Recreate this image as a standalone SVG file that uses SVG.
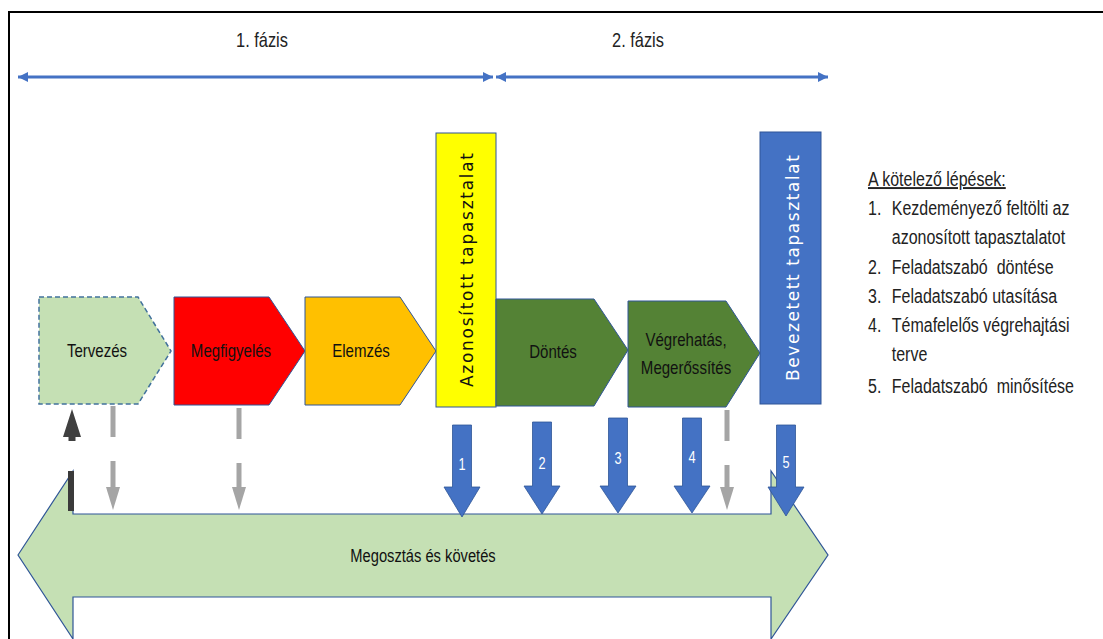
<svg xmlns="http://www.w3.org/2000/svg" width="1103" height="639" viewBox="0 0 1103 639">
  <defs>
    <style>
      .frame { fill: none; stroke: #000; stroke-width: 2; }
      .phase { stroke: #4472C4; stroke-width: 3; fill: none; }
      .phase-label { font-family: "Liberation Sans", Arial, sans-serif; font-size: 20px; fill: #222; text-anchor: middle; }
      .step { stroke: #2F5597; stroke-width: 1; }
      .lbl { font-family: "Liberation Sans", Arial, sans-serif; font-size: 17.5px; fill: #111; text-anchor: middle; dominant-baseline: central; }
      .vlbl { font-family: "DejaVu Sans", Verdana, sans-serif; font-size: 17px; text-anchor: middle; dominant-baseline: central; }
      .blue-arrow { fill: #4472C4; stroke: #2F5597; stroke-width: 0.8; }
      .num { font-family: "Liberation Sans", Arial, sans-serif; font-size: 17px; fill: #fff; text-anchor: middle; dominant-baseline: central; }
      .gray-shaft { stroke: #A5A5A5; stroke-width: 5; stroke-dasharray: 31 24; fill: none; }
      .gray-head { fill: #A5A5A5; }
      .list { font-family: "Liberation Sans", Arial, sans-serif; font-size: 19.5px; fill: #222; }
    </style>
    <marker id="ph" viewBox="0 0 10 10" markerUnits="userSpaceOnUse" markerWidth="10" markerHeight="11" refX="10" refY="5" orient="auto-start-reverse">
      <path d="M0,0 L10,5 L0,10 z" fill="#4472C4"/>
    </marker>
  </defs>

  <rect width="1103" height="639" fill="#fff"/>
  <path class="frame" d="M9,639 V12 H1103"/>

  <!-- phase bars -->
  <g id="phase1">
    <text class="phase-label" transform="translate(262,47) scale(0.82,1)">1. fázis</text>
    <line class="phase" x1="18" y1="77" x2="493" y2="77" marker-start="url(#ph)" marker-end="url(#ph)"/>
  </g>
  <g id="phase2">
    <text class="phase-label" transform="translate(638,47) scale(0.82,1)">2. fázis</text>
    <line class="phase" x1="496" y1="77" x2="828" y2="77" marker-start="url(#ph)" marker-end="url(#ph)"/>
  </g>

  <!-- sharing / follow-up band -->
  <g id="megosztas">
    <path d="M18,555 L73,471 V514 H771 V471 L828,555 L771,639 V597 H73 V639 Z" fill="#C5E0B4" stroke="#2F5597" stroke-width="1.2"/>
    <text class="lbl" transform="translate(423,556) scale(0.84,1)">Megosztás és követés</text>
  </g>

  <!-- process steps -->
  <g id="tervezes">
    <path d="M39,297 H138 L171,351 L138,404 H39 Z" fill="#C5E0B4" stroke="#41719C" stroke-width="1.5" stroke-dasharray="5 3"/>
    <text class="lbl" transform="translate(97,351) scale(0.86,1)">Tervezés</text>
  </g>
  <g id="megfigyeles">
    <path class="step" d="M174,297 H269 L305,351 L269,405 H174 Z" fill="#FF0000"/>
    <text class="lbl" transform="translate(231,351) scale(0.86,1)">Megfigyelés</text>
  </g>
  <g id="elemzes">
    <path class="step" d="M305,297 H400 L436,351 L400,405 H305 Z" fill="#FFC000"/>
    <text class="lbl" transform="translate(361,351) scale(0.86,1)">Elemzés</text>
  </g>
  <g id="azonositott">
    <rect class="step" x="436" y="133" width="60" height="274" fill="#FFFF00"/>
    <text class="vlbl" transform="translate(467,270) rotate(-90)" fill="#111" textLength="234" lengthAdjust="spacing">Azonosított tapasztalat</text>
  </g>
  <g id="dontes">
    <path class="step" d="M496,299 H594 L628,350 L594,406 H496 Z" fill="#548235"/>
    <text class="lbl" transform="translate(553,352) scale(0.86,1)">Döntés</text>
  </g>
  <g id="vegrehatas">
    <path class="step" d="M628,301 H726 L760,353 L726,407 H628 Z" fill="#548235"/>
    <text class="lbl" transform="translate(686,340) scale(0.86,1)">Végrehatás,</text>
    <text class="lbl" transform="translate(686,368) scale(0.86,1)">Megerőssítés</text>
  </g>
  <g id="bevezetett">
    <rect class="step" x="760" y="132" width="61" height="272" fill="#4472C4"/>
    <text class="vlbl" transform="translate(793,268) rotate(-90)" fill="#fff" textLength="226" lengthAdjust="spacing">Bevezetett tapasztalat</text>
  </g>

  <!-- connectors -->
  <g id="connectors">
    <!-- feedback into planning -->
    <rect x="68" y="471" width="6" height="40" fill="#3A3A3A"/>
    <path d="M68.5,441 V437 H63 L72,409 L81,437 H75.5 V441 Z" fill="#404040"/>

    <!-- optional sharing (dashed gray) -->
    <line class="gray-shaft" x1="113" y1="406" x2="113" y2="488"/>
    <path class="gray-head" d="M106,487 H120 L113,510 Z"/>
    <line class="gray-shaft" x1="239" y1="408" x2="239" y2="488"/>
    <path class="gray-head" d="M232,487 H246 L239,510 Z"/>
    <line class="gray-shaft" x1="727" y1="410" x2="727" y2="488"/>
    <path class="gray-head" d="M720,487 H734 L727,510 Z"/>

    <!-- mandatory steps (blue block arrows) -->
    <path class="blue-arrow" d="M452.5,425 H471.5 V487 H480 L462,517 L444,487 H452.5 Z"/>
    <text class="num" transform="translate(462,464) scale(0.75,1)">1</text>
    <path class="blue-arrow" d="M532.5,422 H551.5 V486 H560 L542,514 L524,486 H532.5 Z"/>
    <text class="num" transform="translate(542,463) scale(0.75,1)">2</text>
    <path class="blue-arrow" d="M608.5,418 H627.5 V486 H636 L618,513 L600,486 H608.5 Z"/>
    <text class="num" transform="translate(618,458) scale(0.75,1)">3</text>
    <path class="blue-arrow" d="M682.5,418 H701.5 V486 H710 L692,513 L674,486 H682.5 Z"/>
    <text class="num" transform="translate(692,457) scale(0.75,1)">4</text>
    <path class="blue-arrow" d="M776.5,425 H795.5 V487 H804 L786,516 L768,487 H776.5 Z"/>
    <text class="num" transform="translate(786,462) scale(0.75,1)">5</text>
  </g>

  <!-- legend, condensed horizontally -->
  <g id="legend" transform="translate(868,0) scale(0.82,1)">
    <text class="list" x="0" y="186" text-decoration="underline">A kötelező lépések:</text>
    <text class="list" x="0" y="215">1.</text>
    <text class="list" x="29" y="215">Kezdeményező feltölti az</text>
    <text class="list" x="29" y="244">azonosított tapasztalatot</text>
    <text class="list" x="0" y="274">2.</text>
    <text class="list" x="29" y="274" xml:space="preserve">Feladatszabó  döntése</text>
    <text class="list" x="0" y="303">3.</text>
    <text class="list" x="29" y="303">Feladatszabó utasítása</text>
    <text class="list" x="0" y="332">4.</text>
    <text class="list" x="29" y="332">Témafelelős végrehajtási</text>
    <text class="list" x="29" y="361">terve</text>
    <text class="list" x="0" y="393">5.</text>
    <text class="list" x="29" y="393" xml:space="preserve">Feladatszabó  minősítése</text>
  </g>
</svg>
